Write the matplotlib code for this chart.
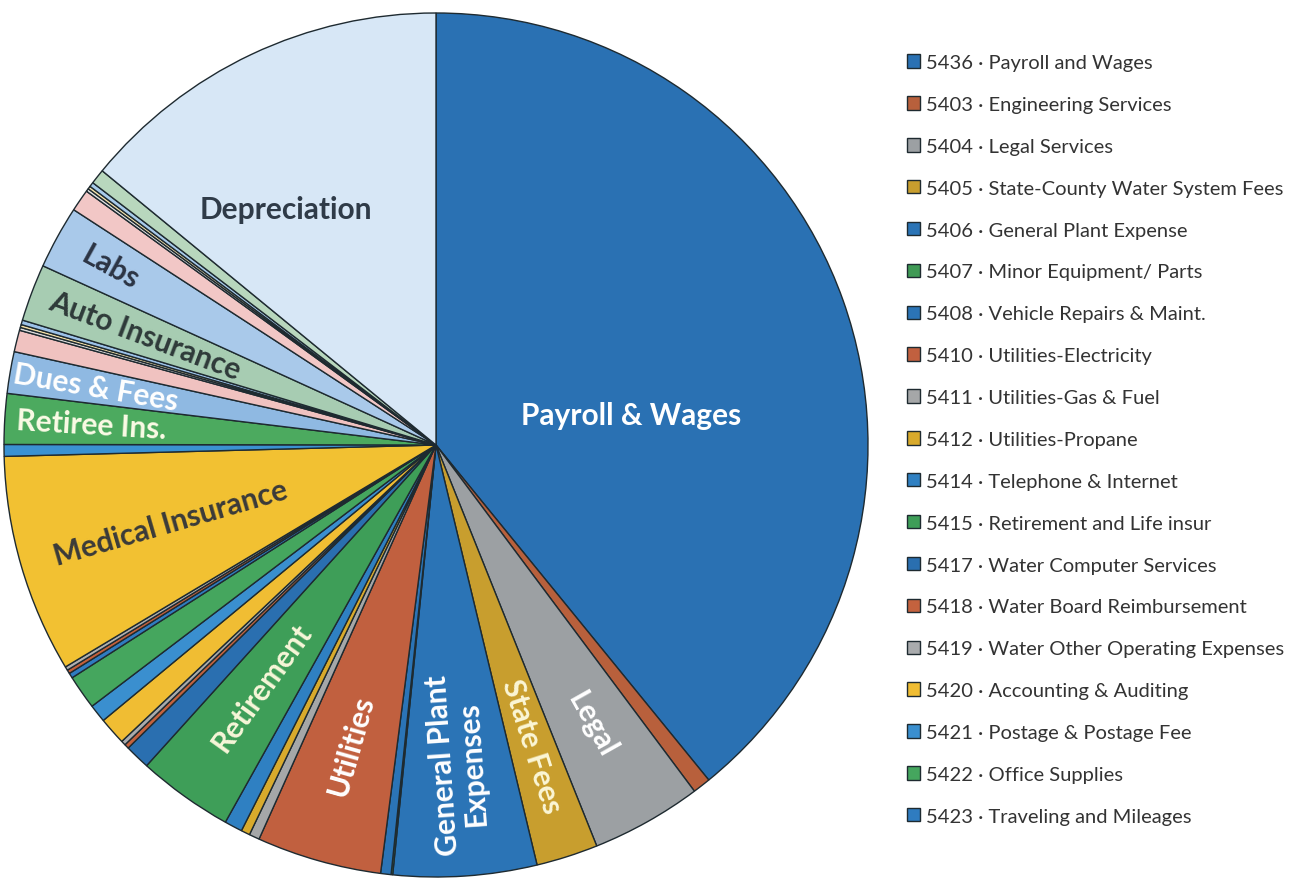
import numpy as np
import matplotlib.pyplot as plt

# account codes shown in the legend (the first 19 slices)
codes = ['5436', '5403', '5404', '5405', '5406', '5407', '5408', '5410',
         '5411', '5412', '5414', '5415', '5417', '5418', '5419', '5420',
         '5421', '5422', '5423']
accounts = ['Payroll and Wages', 'Engineering Services', 'Legal Services',
            'State-County Water System Fees', 'General Plant Expense',
            'Minor Equipment/ Parts', 'Vehicle Repairs & Maint.',
            'Utilities-Electricity', 'Utilities-Gas & Fuel', 'Utilities-Propane',
            'Telephone & Internet', 'Retirement and Life insur',
            'Water Computer Services', 'Water Board Reimbursement',
            'Water Other Operating Expenses', 'Accounting & Auditing',
            'Postage & Postage Fee', 'Office Supplies', 'Traveling and Mileages']

# share of total expenses (%) for every slice, clockwise from 12 o'clock
shares = [39.14, 0.67, 4.14, 2.31, 5.36, 0.06, 0.39, 4.67, 0.39, 0.33,
          0.67, 3.58, 0.94, 0.17, 0.17, 1.03, 0.67, 1.28, 0.19, 0.14,
          0.14, 8.17, 0.44, 1.89, 1.56, 0.81, 0.11, 0.11, 0.17, 2.14,
          2.36, 0.83, 0.11, 0.11, 0.17, 0.56, 14.06]

# text written on the larger slices (slice index -> label)
slice_labels = {0: 'Payroll & Wages', 2: 'Legal', 3: 'State Fees',
                4: 'General Plant\nExpenses', 7: 'Utilities', 11: 'Retirement',
                21: 'Medical Insurance', 23: 'Retiree Ins.', 24: 'Dues & Fees',
                29: 'Auto Insurance', 30: 'Labs', 36: 'Depreciation'}

colors = ['#2a71b3', '#b8603c', '#9ca0a3', '#c89e2e', '#2b74b6', '#3f9a55',
          '#2b74b6', '#c1603f', '#a5a7a8', '#d8aa2c', '#2f80c2', '#3e9e58',
          '#2a6fb0', '#c4623e', '#a9abad', '#f0bd33', '#3a8fcf', '#45a65e',
          '#2f7cc0', '#c4603a', '#b0b0b0', '#f2c132', '#3b92d2', '#4caa5f',
          '#8fb9e2', '#f0c2c0', '#dcdcdc', '#f6e1a6', '#9cc2e8', '#a7ccb2',
          '#a9c9ea', '#f2c7c6', '#e2e2e2', '#f5e2ab', '#a8cbea', '#b8d7bd',
          '#d7e7f6']

fig = plt.figure(figsize=(13.12, 8.79), dpi=100)
plt.rcParams['font.family'] = ['Lato', 'DejaVu Sans']

# pie centre at (436, 446) px, radius 432 px
R = 432.0
ax = fig.add_axes([(436 - R) / 1312, (879 - 446 - R) / 879, 2 * R / 1312, 2 * R / 879])
wedges, _ = ax.pie(shares, colors=colors, startangle=90, counterclock=False,
                   radius=1.0, wedgeprops=dict(edgecolor='#1e2a30', linewidth=1.0))
ax.set_xlim(-1, 1)
ax.set_ylim(-1, 1)
ax.set_aspect('equal')
ax.axis('off')

# radial position and colour of each slice label
label_r = {2: 0.74, 3: 0.73, 4: 0.74, 7: 0.72, 11: 0.69, 21: 0.64,
           23: 0.80, 24: 0.80, 29: 0.72, 30: 0.86}
label_color = {0: 'white', 2: 'white', 3: '#fbf6d6', 4: 'white', 7: 'white',
               11: '#f7f6d8', 21: '#3a3a3a', 23: '#fbfbe6', 24: 'white',
               29: '#2f3a3a', 30: '#2c3444', 36: '#2f3b48'}

for i, txt in slice_labels.items():
    w = wedges[i]
    mid = 0.5 * (w.theta1 + w.theta2)
    if i == 0:
        x, y, rot = 0.451, 0.069, 0
    elif i == 36:
        x, y, rot = -0.347, 0.546, 0
    else:
        r = label_r[i]
        x = r * np.cos(np.radians(mid))
        y = r * np.sin(np.radians(mid))
        rot = (mid + 180) % 360 - 180
        if rot < -80 or rot > 90:
            rot = rot + 180 if rot < 0 else rot - 180
    ax.text(x, y, txt, rotation=rot, rotation_mode='anchor', ha='center',
            va='center', fontsize=21.5, fontweight='bold', color=label_color[i],
            linespacing=1.05)

leg_labels = [c + ' \u00b7 ' + a for c, a in zip(codes, accounts)]
leg = fig.legend(wedges[:len(codes)], leg_labels, loc='upper left',
                 bbox_to_anchor=(889 / 1312, 1 - 37 / 879), frameon=False,
                 fontsize=14.5, handlelength=0.65, handleheight=0.65,
                 handletextpad=0.3, labelspacing=1.235)
for t in leg.get_texts():
    t.set_color('#333333')

fig.savefig('out.png', dpi=100)
